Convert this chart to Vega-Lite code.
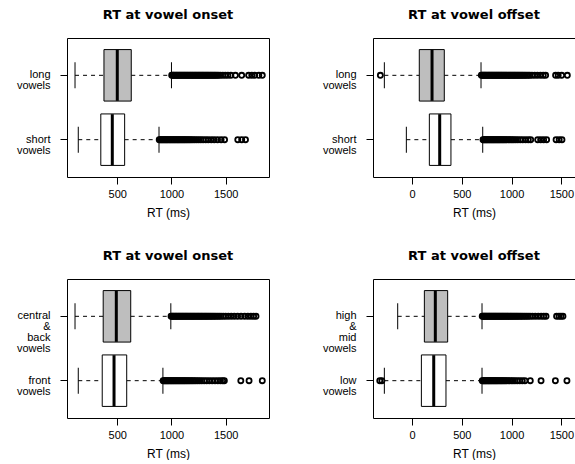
{
  "$schema": "https://vega.github.io/schema/vega-lite/v6.json",
  "background": "white",
  "padding": {"left": 15, "top": 8, "right": 0, "bottom": 0},
  "columns": 2,
  "bounds": "flush",
  "spacing": {"row": 102, "column": 104},
  "datasets": {
    "boxes": [
      {"p": "p1", "g": "long|vowels", "lo": 110, "q1": 377, "med": 500, "q3": 629, "hi": 1000},
      {"p": "p1", "g": "short|vowels", "lo": 140, "q1": 348, "med": 454, "q3": 568, "hi": 885},
      {"p": "p2", "g": "long|vowels", "lo": -278, "q1": 73, "med": 201, "q3": 324, "hi": 693},
      {"p": "p2", "g": "short|vowels", "lo": -57, "q1": 174, "med": 278, "q3": 391, "hi": 710},
      {"p": "p3", "g": "central|&|back|vowels", "lo": 110, "q1": 370, "med": 491, "q3": 624, "hi": 994},
      {"p": "p3", "g": "front|vowels", "lo": 140, "q1": 361, "med": 470, "q3": 587, "hi": 921},
      {"p": "p4", "g": "high|&|mid|vowels", "lo": -144, "q1": 124, "med": 234, "q3": 358, "hi": 703},
      {"p": "p4", "g": "low|vowels", "lo": -278, "q1": 94, "med": 218, "q3": 341, "hi": 703}
    ],
    "outs": [
      {"p":"p1","g":"long|vowels","v":1002},{"p":"p1","g":"long|vowels","v":1011},{"p":"p1","g":"long|vowels","v":1019},{"p":"p1","g":"long|vowels","v":1028},{"p":"p1","g":"long|vowels","v":1038},{"p":"p1","g":"long|vowels","v":1047},{"p":"p1","g":"long|vowels","v":1056},{"p":"p1","g":"long|vowels","v":1066},{"p":"p1","g":"long|vowels","v":1075},{"p":"p1","g":"long|vowels","v":1084},{"p":"p1","g":"long|vowels","v":1094},{"p":"p1","g":"long|vowels","v":1103},{"p":"p1","g":"long|vowels","v":1113},{"p":"p1","g":"long|vowels","v":1122},{"p":"p1","g":"long|vowels","v":1131},{"p":"p1","g":"long|vowels","v":1141},{"p":"p1","g":"long|vowels","v":1150},{"p":"p1","g":"long|vowels","v":1160},{"p":"p1","g":"long|vowels","v":1170},{"p":"p1","g":"long|vowels","v":1179},{"p":"p1","g":"long|vowels","v":1189},{"p":"p1","g":"long|vowels","v":1198},{"p":"p1","g":"long|vowels","v":1208},{"p":"p1","g":"long|vowels","v":1218},{"p":"p1","g":"long|vowels","v":1227},{"p":"p1","g":"long|vowels","v":1237},{"p":"p1","g":"long|vowels","v":1247},{"p":"p1","g":"long|vowels","v":1256},{"p":"p1","g":"long|vowels","v":1266},{"p":"p1","g":"long|vowels","v":1276},{"p":"p1","g":"long|vowels","v":1286},{"p":"p1","g":"long|vowels","v":1295},{"p":"p1","g":"long|vowels","v":1305},{"p":"p1","g":"long|vowels","v":1315},{"p":"p1","g":"long|vowels","v":1325},{"p":"p1","g":"long|vowels","v":1335},{"p":"p1","g":"long|vowels","v":1345},{"p":"p1","g":"long|vowels","v":1356},{"p":"p1","g":"long|vowels","v":1366},{"p":"p1","g":"long|vowels","v":1377},{"p":"p1","g":"long|vowels","v":1388},{"p":"p1","g":"long|vowels","v":1399},{"p":"p1","g":"long|vowels","v":1410},{"p":"p1","g":"long|vowels","v":1422},{"p":"p1","g":"long|vowels","v":1435},{"p":"p1","g":"long|vowels","v":1452},{"p":"p1","g":"long|vowels","v":1474},{"p":"p1","g":"long|vowels","v":1497},{"p":"p1","g":"long|vowels","v":1521},{"p":"p1","g":"long|vowels","v":1548},{"p":"p1","g":"long|vowels","v":1590},{"p":"p1","g":"long|vowels","v":1648},{"p":"p1","g":"long|vowels","v":1712},{"p":"p1","g":"long|vowels","v":1741},{"p":"p1","g":"long|vowels","v":1768},{"p":"p1","g":"long|vowels","v":1806},{"p":"p1","g":"long|vowels","v":1838},
      {"p":"p1","g":"short|vowels","v":887},{"p":"p1","g":"short|vowels","v":896},{"p":"p1","g":"short|vowels","v":905},{"p":"p1","g":"short|vowels","v":914},{"p":"p1","g":"short|vowels","v":923},{"p":"p1","g":"short|vowels","v":932},{"p":"p1","g":"short|vowels","v":941},{"p":"p1","g":"short|vowels","v":950},{"p":"p1","g":"short|vowels","v":959},{"p":"p1","g":"short|vowels","v":968},{"p":"p1","g":"short|vowels","v":978},{"p":"p1","g":"short|vowels","v":987},{"p":"p1","g":"short|vowels","v":996},{"p":"p1","g":"short|vowels","v":1006},{"p":"p1","g":"short|vowels","v":1015},{"p":"p1","g":"short|vowels","v":1025},{"p":"p1","g":"short|vowels","v":1034},{"p":"p1","g":"short|vowels","v":1044},{"p":"p1","g":"short|vowels","v":1054},{"p":"p1","g":"short|vowels","v":1063},{"p":"p1","g":"short|vowels","v":1073},{"p":"p1","g":"short|vowels","v":1083},{"p":"p1","g":"short|vowels","v":1093},{"p":"p1","g":"short|vowels","v":1103},{"p":"p1","g":"short|vowels","v":1114},{"p":"p1","g":"short|vowels","v":1124},{"p":"p1","g":"short|vowels","v":1135},{"p":"p1","g":"short|vowels","v":1146},{"p":"p1","g":"short|vowels","v":1158},{"p":"p1","g":"short|vowels","v":1170},{"p":"p1","g":"short|vowels","v":1183},{"p":"p1","g":"short|vowels","v":1198},{"p":"p1","g":"short|vowels","v":1214},{"p":"p1","g":"short|vowels","v":1232},{"p":"p1","g":"short|vowels","v":1251},{"p":"p1","g":"short|vowels","v":1271},{"p":"p1","g":"short|vowels","v":1292},{"p":"p1","g":"short|vowels","v":1316},{"p":"p1","g":"short|vowels","v":1340},{"p":"p1","g":"short|vowels","v":1368},{"p":"p1","g":"short|vowels","v":1395},{"p":"p1","g":"short|vowels","v":1425},{"p":"p1","g":"short|vowels","v":1458},{"p":"p1","g":"short|vowels","v":1490},{"p":"p1","g":"short|vowels","v":1612},{"p":"p1","g":"short|vowels","v":1648},{"p":"p1","g":"short|vowels","v":1683},
      {"p":"p2","g":"long|vowels","v":-318},{"p":"p2","g":"long|vowels","v":696},{"p":"p2","g":"long|vowels","v":705},{"p":"p2","g":"long|vowels","v":714},{"p":"p2","g":"long|vowels","v":723},{"p":"p2","g":"long|vowels","v":732},{"p":"p2","g":"long|vowels","v":741},{"p":"p2","g":"long|vowels","v":750},{"p":"p2","g":"long|vowels","v":760},{"p":"p2","g":"long|vowels","v":769},{"p":"p2","g":"long|vowels","v":778},{"p":"p2","g":"long|vowels","v":787},{"p":"p2","g":"long|vowels","v":797},{"p":"p2","g":"long|vowels","v":806},{"p":"p2","g":"long|vowels","v":815},{"p":"p2","g":"long|vowels","v":825},{"p":"p2","g":"long|vowels","v":834},{"p":"p2","g":"long|vowels","v":844},{"p":"p2","g":"long|vowels","v":853},{"p":"p2","g":"long|vowels","v":863},{"p":"p2","g":"long|vowels","v":872},{"p":"p2","g":"long|vowels","v":882},{"p":"p2","g":"long|vowels","v":892},{"p":"p2","g":"long|vowels","v":901},{"p":"p2","g":"long|vowels","v":911},{"p":"p2","g":"long|vowels","v":921},{"p":"p2","g":"long|vowels","v":931},{"p":"p2","g":"long|vowels","v":941},{"p":"p2","g":"long|vowels","v":951},{"p":"p2","g":"long|vowels","v":961},{"p":"p2","g":"long|vowels","v":971},{"p":"p2","g":"long|vowels","v":981},{"p":"p2","g":"long|vowels","v":991},{"p":"p2","g":"long|vowels","v":1002},{"p":"p2","g":"long|vowels","v":1012},{"p":"p2","g":"long|vowels","v":1023},{"p":"p2","g":"long|vowels","v":1033},{"p":"p2","g":"long|vowels","v":1044},{"p":"p2","g":"long|vowels","v":1055},{"p":"p2","g":"long|vowels","v":1066},{"p":"p2","g":"long|vowels","v":1077},{"p":"p2","g":"long|vowels","v":1089},{"p":"p2","g":"long|vowels","v":1101},{"p":"p2","g":"long|vowels","v":1113},{"p":"p2","g":"long|vowels","v":1126},{"p":"p2","g":"long|vowels","v":1139},{"p":"p2","g":"long|vowels","v":1153},{"p":"p2","g":"long|vowels","v":1168},{"p":"p2","g":"long|vowels","v":1183},{"p":"p2","g":"long|vowels","v":1205},{"p":"p2","g":"long|vowels","v":1232},{"p":"p2","g":"long|vowels","v":1260},{"p":"p2","g":"long|vowels","v":1290},{"p":"p2","g":"long|vowels","v":1318},{"p":"p2","g":"long|vowels","v":1342},{"p":"p2","g":"long|vowels","v":1442},{"p":"p2","g":"long|vowels","v":1468},{"p":"p2","g":"long|vowels","v":1503},{"p":"p2","g":"long|vowels","v":1560},
      {"p":"p2","g":"short|vowels","v":713},{"p":"p2","g":"short|vowels","v":722},{"p":"p2","g":"short|vowels","v":731},{"p":"p2","g":"short|vowels","v":740},{"p":"p2","g":"short|vowels","v":749},{"p":"p2","g":"short|vowels","v":758},{"p":"p2","g":"short|vowels","v":768},{"p":"p2","g":"short|vowels","v":777},{"p":"p2","g":"short|vowels","v":786},{"p":"p2","g":"short|vowels","v":796},{"p":"p2","g":"short|vowels","v":805},{"p":"p2","g":"short|vowels","v":815},{"p":"p2","g":"short|vowels","v":824},{"p":"p2","g":"short|vowels","v":834},{"p":"p2","g":"short|vowels","v":844},{"p":"p2","g":"short|vowels","v":854},{"p":"p2","g":"short|vowels","v":864},{"p":"p2","g":"short|vowels","v":874},{"p":"p2","g":"short|vowels","v":884},{"p":"p2","g":"short|vowels","v":895},{"p":"p2","g":"short|vowels","v":906},{"p":"p2","g":"short|vowels","v":917},{"p":"p2","g":"short|vowels","v":928},{"p":"p2","g":"short|vowels","v":940},{"p":"p2","g":"short|vowels","v":952},{"p":"p2","g":"short|vowels","v":965},{"p":"p2","g":"short|vowels","v":978},{"p":"p2","g":"short|vowels","v":992},{"p":"p2","g":"short|vowels","v":1007},{"p":"p2","g":"short|vowels","v":1023},{"p":"p2","g":"short|vowels","v":1042},{"p":"p2","g":"short|vowels","v":1063},{"p":"p2","g":"short|vowels","v":1087},{"p":"p2","g":"short|vowels","v":1112},{"p":"p2","g":"short|vowels","v":1140},{"p":"p2","g":"short|vowels","v":1168},{"p":"p2","g":"short|vowels","v":1192},{"p":"p2","g":"short|vowels","v":1262},{"p":"p2","g":"short|vowels","v":1292},{"p":"p2","g":"short|vowels","v":1322},{"p":"p2","g":"short|vowels","v":1352},{"p":"p2","g":"short|vowels","v":1447},{"p":"p2","g":"short|vowels","v":1478},{"p":"p2","g":"short|vowels","v":1506},
      {"p":"p3","g":"central|&|back|vowels","v":996},{"p":"p3","g":"central|&|back|vowels","v":1005},{"p":"p3","g":"central|&|back|vowels","v":1014},{"p":"p3","g":"central|&|back|vowels","v":1023},{"p":"p3","g":"central|&|back|vowels","v":1033},{"p":"p3","g":"central|&|back|vowels","v":1042},{"p":"p3","g":"central|&|back|vowels","v":1051},{"p":"p3","g":"central|&|back|vowels","v":1061},{"p":"p3","g":"central|&|back|vowels","v":1070},{"p":"p3","g":"central|&|back|vowels","v":1080},{"p":"p3","g":"central|&|back|vowels","v":1089},{"p":"p3","g":"central|&|back|vowels","v":1099},{"p":"p3","g":"central|&|back|vowels","v":1108},{"p":"p3","g":"central|&|back|vowels","v":1118},{"p":"p3","g":"central|&|back|vowels","v":1128},{"p":"p3","g":"central|&|back|vowels","v":1137},{"p":"p3","g":"central|&|back|vowels","v":1147},{"p":"p3","g":"central|&|back|vowels","v":1157},{"p":"p3","g":"central|&|back|vowels","v":1167},{"p":"p3","g":"central|&|back|vowels","v":1177},{"p":"p3","g":"central|&|back|vowels","v":1187},{"p":"p3","g":"central|&|back|vowels","v":1197},{"p":"p3","g":"central|&|back|vowels","v":1207},{"p":"p3","g":"central|&|back|vowels","v":1217},{"p":"p3","g":"central|&|back|vowels","v":1227},{"p":"p3","g":"central|&|back|vowels","v":1238},{"p":"p3","g":"central|&|back|vowels","v":1248},{"p":"p3","g":"central|&|back|vowels","v":1258},{"p":"p3","g":"central|&|back|vowels","v":1269},{"p":"p3","g":"central|&|back|vowels","v":1279},{"p":"p3","g":"central|&|back|vowels","v":1290},{"p":"p3","g":"central|&|back|vowels","v":1301},{"p":"p3","g":"central|&|back|vowels","v":1312},{"p":"p3","g":"central|&|back|vowels","v":1323},{"p":"p3","g":"central|&|back|vowels","v":1334},{"p":"p3","g":"central|&|back|vowels","v":1346},{"p":"p3","g":"central|&|back|vowels","v":1358},{"p":"p3","g":"central|&|back|vowels","v":1370},{"p":"p3","g":"central|&|back|vowels","v":1383},{"p":"p3","g":"central|&|back|vowels","v":1396},{"p":"p3","g":"central|&|back|vowels","v":1410},{"p":"p3","g":"central|&|back|vowels","v":1425},{"p":"p3","g":"central|&|back|vowels","v":1441},{"p":"p3","g":"central|&|back|vowels","v":1458},{"p":"p3","g":"central|&|back|vowels","v":1478},{"p":"p3","g":"central|&|back|vowels","v":1500},{"p":"p3","g":"central|&|back|vowels","v":1525},{"p":"p3","g":"central|&|back|vowels","v":1552},{"p":"p3","g":"central|&|back|vowels","v":1580},{"p":"p3","g":"central|&|back|vowels","v":1610},{"p":"p3","g":"central|&|back|vowels","v":1642},{"p":"p3","g":"central|&|back|vowels","v":1675},{"p":"p3","g":"central|&|back|vowels","v":1705},{"p":"p3","g":"central|&|back|vowels","v":1733},{"p":"p3","g":"central|&|back|vowels","v":1758},{"p":"p3","g":"central|&|back|vowels","v":1780},
      {"p":"p3","g":"front|vowels","v":923},{"p":"p3","g":"front|vowels","v":932},{"p":"p3","g":"front|vowels","v":941},{"p":"p3","g":"front|vowels","v":950},{"p":"p3","g":"front|vowels","v":959},{"p":"p3","g":"front|vowels","v":968},{"p":"p3","g":"front|vowels","v":977},{"p":"p3","g":"front|vowels","v":987},{"p":"p3","g":"front|vowels","v":996},{"p":"p3","g":"front|vowels","v":1005},{"p":"p3","g":"front|vowels","v":1015},{"p":"p3","g":"front|vowels","v":1024},{"p":"p3","g":"front|vowels","v":1034},{"p":"p3","g":"front|vowels","v":1043},{"p":"p3","g":"front|vowels","v":1053},{"p":"p3","g":"front|vowels","v":1063},{"p":"p3","g":"front|vowels","v":1073},{"p":"p3","g":"front|vowels","v":1083},{"p":"p3","g":"front|vowels","v":1093},{"p":"p3","g":"front|vowels","v":1103},{"p":"p3","g":"front|vowels","v":1114},{"p":"p3","g":"front|vowels","v":1124},{"p":"p3","g":"front|vowels","v":1135},{"p":"p3","g":"front|vowels","v":1146},{"p":"p3","g":"front|vowels","v":1158},{"p":"p3","g":"front|vowels","v":1170},{"p":"p3","g":"front|vowels","v":1183},{"p":"p3","g":"front|vowels","v":1196},{"p":"p3","g":"front|vowels","v":1210},{"p":"p3","g":"front|vowels","v":1225},{"p":"p3","g":"front|vowels","v":1242},{"p":"p3","g":"front|vowels","v":1260},{"p":"p3","g":"front|vowels","v":1280},{"p":"p3","g":"front|vowels","v":1302},{"p":"p3","g":"front|vowels","v":1325},{"p":"p3","g":"front|vowels","v":1350},{"p":"p3","g":"front|vowels","v":1376},{"p":"p3","g":"front|vowels","v":1402},{"p":"p3","g":"front|vowels","v":1428},{"p":"p3","g":"front|vowels","v":1452},{"p":"p3","g":"front|vowels","v":1472},{"p":"p3","g":"front|vowels","v":1488},{"p":"p3","g":"front|vowels","v":1640},{"p":"p3","g":"front|vowels","v":1716},{"p":"p3","g":"front|vowels","v":1838},
      {"p":"p4","g":"high|&|mid|vowels","v":705},{"p":"p4","g":"high|&|mid|vowels","v":714},{"p":"p4","g":"high|&|mid|vowels","v":723},{"p":"p4","g":"high|&|mid|vowels","v":732},{"p":"p4","g":"high|&|mid|vowels","v":741},{"p":"p4","g":"high|&|mid|vowels","v":750},{"p":"p4","g":"high|&|mid|vowels","v":759},{"p":"p4","g":"high|&|mid|vowels","v":769},{"p":"p4","g":"high|&|mid|vowels","v":778},{"p":"p4","g":"high|&|mid|vowels","v":787},{"p":"p4","g":"high|&|mid|vowels","v":797},{"p":"p4","g":"high|&|mid|vowels","v":806},{"p":"p4","g":"high|&|mid|vowels","v":816},{"p":"p4","g":"high|&|mid|vowels","v":825},{"p":"p4","g":"high|&|mid|vowels","v":835},{"p":"p4","g":"high|&|mid|vowels","v":844},{"p":"p4","g":"high|&|mid|vowels","v":854},{"p":"p4","g":"high|&|mid|vowels","v":864},{"p":"p4","g":"high|&|mid|vowels","v":874},{"p":"p4","g":"high|&|mid|vowels","v":884},{"p":"p4","g":"high|&|mid|vowels","v":894},{"p":"p4","g":"high|&|mid|vowels","v":904},{"p":"p4","g":"high|&|mid|vowels","v":914},{"p":"p4","g":"high|&|mid|vowels","v":924},{"p":"p4","g":"high|&|mid|vowels","v":935},{"p":"p4","g":"high|&|mid|vowels","v":945},{"p":"p4","g":"high|&|mid|vowels","v":956},{"p":"p4","g":"high|&|mid|vowels","v":966},{"p":"p4","g":"high|&|mid|vowels","v":977},{"p":"p4","g":"high|&|mid|vowels","v":988},{"p":"p4","g":"high|&|mid|vowels","v":999},{"p":"p4","g":"high|&|mid|vowels","v":1010},{"p":"p4","g":"high|&|mid|vowels","v":1022},{"p":"p4","g":"high|&|mid|vowels","v":1034},{"p":"p4","g":"high|&|mid|vowels","v":1046},{"p":"p4","g":"high|&|mid|vowels","v":1058},{"p":"p4","g":"high|&|mid|vowels","v":1071},{"p":"p4","g":"high|&|mid|vowels","v":1085},{"p":"p4","g":"high|&|mid|vowels","v":1099},{"p":"p4","g":"high|&|mid|vowels","v":1114},{"p":"p4","g":"high|&|mid|vowels","v":1130},{"p":"p4","g":"high|&|mid|vowels","v":1147},{"p":"p4","g":"high|&|mid|vowels","v":1165},{"p":"p4","g":"high|&|mid|vowels","v":1185},{"p":"p4","g":"high|&|mid|vowels","v":1210},{"p":"p4","g":"high|&|mid|vowels","v":1238},{"p":"p4","g":"high|&|mid|vowels","v":1268},{"p":"p4","g":"high|&|mid|vowels","v":1297},{"p":"p4","g":"high|&|mid|vowels","v":1323},{"p":"p4","g":"high|&|mid|vowels","v":1346},{"p":"p4","g":"high|&|mid|vowels","v":1452},{"p":"p4","g":"high|&|mid|vowels","v":1476},{"p":"p4","g":"high|&|mid|vowels","v":1496},{"p":"p4","g":"high|&|mid|vowels","v":1516},
      {"p":"p4","g":"low|vowels","v":-324},{"p":"p4","g":"low|vowels","v":-303},{"p":"p4","g":"low|vowels","v":705},{"p":"p4","g":"low|vowels","v":714},{"p":"p4","g":"low|vowels","v":723},{"p":"p4","g":"low|vowels","v":732},{"p":"p4","g":"low|vowels","v":741},{"p":"p4","g":"low|vowels","v":750},{"p":"p4","g":"low|vowels","v":760},{"p":"p4","g":"low|vowels","v":769},{"p":"p4","g":"low|vowels","v":778},{"p":"p4","g":"low|vowels","v":788},{"p":"p4","g":"low|vowels","v":797},{"p":"p4","g":"low|vowels","v":807},{"p":"p4","g":"low|vowels","v":817},{"p":"p4","g":"low|vowels","v":827},{"p":"p4","g":"low|vowels","v":837},{"p":"p4","g":"low|vowels","v":847},{"p":"p4","g":"low|vowels","v":857},{"p":"p4","g":"low|vowels","v":868},{"p":"p4","g":"low|vowels","v":879},{"p":"p4","g":"low|vowels","v":890},{"p":"p4","g":"low|vowels","v":901},{"p":"p4","g":"low|vowels","v":913},{"p":"p4","g":"low|vowels","v":925},{"p":"p4","g":"low|vowels","v":938},{"p":"p4","g":"low|vowels","v":951},{"p":"p4","g":"low|vowels","v":965},{"p":"p4","g":"low|vowels","v":980},{"p":"p4","g":"low|vowels","v":996},{"p":"p4","g":"low|vowels","v":1014},{"p":"p4","g":"low|vowels","v":1034},{"p":"p4","g":"low|vowels","v":1057},{"p":"p4","g":"low|vowels","v":1082},{"p":"p4","g":"low|vowels","v":1108},{"p":"p4","g":"low|vowels","v":1134},{"p":"p4","g":"low|vowels","v":1188},{"p":"p4","g":"low|vowels","v":1296},{"p":"p4","g":"low|vowels","v":1440},{"p":"p4","g":"low|vowels","v":1556}
    ]
  },
  "concat": [
    {
      "title": "RT at vowel onset",
      "width": 202, "height": 139,
      "encoding": {"y": {"field": "g", "type": "nominal", "sort": ["long|vowels", "short|vowels"], "title": null, "scale": {"domain": ["long|vowels", "short|vowels"], "paddingInner": 0.2, "paddingOuter": 0.18}, "axis": {"labelExpr": "split(datum.label, '|')"}}},
      "layer": [
        {"data": {"name": "boxes"}, "transform": [{"filter": "datum.p == 'p1'"}], "mark": {"type": "rule", "color": "black", "strokeDash": [4, 4]}, "encoding": {"x": {"field": "lo", "type": "quantitative", "title": "RT (ms)", "scale": {"domain": [36, 1900], "nice": false, "zero": false}, "axis": {"values": [500, 1000, 1500], "format": "d"}}, "x2": {"field": "q1"}}},
        {"data": {"name": "boxes"}, "transform": [{"filter": "datum.p == 'p1'"}], "mark": {"type": "rule", "color": "black", "strokeDash": [4, 4]}, "encoding": {"x": {"field": "q3", "type": "quantitative", "title": "RT (ms)", "scale": {"domain": [36, 1900], "nice": false, "zero": false}, "axis": {"values": [500, 1000, 1500], "format": "d"}}, "x2": {"field": "hi"}}},
        {"data": {"name": "boxes"}, "transform": [{"filter": "datum.p == 'p1'"}], "mark": {"type": "tick", "orient": "vertical", "color": "black", "thickness": 1, "size": 26, "opacity": 1}, "encoding": {"x": {"field": "lo", "type": "quantitative", "title": "RT (ms)", "scale": {"domain": [36, 1900], "nice": false, "zero": false}, "axis": {"values": [500, 1000, 1500], "format": "d"}}}},
        {"data": {"name": "boxes"}, "transform": [{"filter": "datum.p == 'p1'"}], "mark": {"type": "tick", "orient": "vertical", "color": "black", "thickness": 1, "size": 26, "opacity": 1}, "encoding": {"x": {"field": "hi", "type": "quantitative", "title": "RT (ms)", "scale": {"domain": [36, 1900], "nice": false, "zero": false}, "axis": {"values": [500, 1000, 1500], "format": "d"}}}},
        {"data": {"name": "boxes"}, "transform": [{"filter": "datum.p == 'p1'"}], "mark": {"type": "bar", "stroke": "black", "strokeWidth": 1, "opacity": 1}, "encoding": {"x": {"field": "q1", "type": "quantitative", "title": "RT (ms)", "scale": {"domain": [36, 1900], "nice": false, "zero": false}, "axis": {"values": [500, 1000, 1500], "format": "d"}}, "x2": {"field": "q3"}, "fill": {"condition": {"test": "datum.g == 'long|vowels'", "value": "#bebebe"}, "value": "white"}}},
        {"data": {"name": "boxes"}, "transform": [{"filter": "datum.p == 'p1'"}], "mark": {"type": "tick", "orient": "vertical", "color": "black", "thickness": 3, "size": 51, "opacity": 1}, "encoding": {"x": {"field": "med", "type": "quantitative", "title": "RT (ms)", "scale": {"domain": [36, 1900], "nice": false, "zero": false}, "axis": {"values": [500, 1000, 1500], "format": "d"}}}},
        {"data": {"name": "outs"}, "transform": [{"filter": "datum.p == 'p1'"}], "mark": {"type": "point", "shape": "circle", "filled": false, "color": "black", "size": 26, "strokeWidth": 1.8, "opacity": 1}, "encoding": {"x": {"field": "v", "type": "quantitative", "title": "RT (ms)", "scale": {"domain": [36, 1900], "nice": false, "zero": false}, "axis": {"values": [500, 1000, 1500], "format": "d"}}}}
      ]
    },
    {
      "title": "RT at vowel offset",
      "width": 202, "height": 139,
      "encoding": {"y": {"field": "g", "type": "nominal", "sort": ["long|vowels", "short|vowels"], "title": null, "scale": {"domain": ["long|vowels", "short|vowels"], "paddingInner": 0.2, "paddingOuter": 0.18}, "axis": {"labelExpr": "split(datum.label, '|')"}}},
      "layer": [
        {"data": {"name": "boxes"}, "transform": [{"filter": "datum.p == 'p2'"}], "mark": {"type": "rule", "color": "black", "strokeDash": [4, 4]}, "encoding": {"x": {"field": "lo", "type": "quantitative", "title": "RT (ms)", "scale": {"domain": [-392, 1637], "nice": false, "zero": false}, "axis": {"values": [0, 500, 1000, 1500], "format": "d"}}, "x2": {"field": "q1"}}},
        {"data": {"name": "boxes"}, "transform": [{"filter": "datum.p == 'p2'"}], "mark": {"type": "rule", "color": "black", "strokeDash": [4, 4]}, "encoding": {"x": {"field": "q3", "type": "quantitative", "title": "RT (ms)", "scale": {"domain": [-392, 1637], "nice": false, "zero": false}, "axis": {"values": [0, 500, 1000, 1500], "format": "d"}}, "x2": {"field": "hi"}}},
        {"data": {"name": "boxes"}, "transform": [{"filter": "datum.p == 'p2'"}], "mark": {"type": "tick", "orient": "vertical", "color": "black", "thickness": 1, "size": 26, "opacity": 1}, "encoding": {"x": {"field": "lo", "type": "quantitative", "title": "RT (ms)", "scale": {"domain": [-392, 1637], "nice": false, "zero": false}, "axis": {"values": [0, 500, 1000, 1500], "format": "d"}}}},
        {"data": {"name": "boxes"}, "transform": [{"filter": "datum.p == 'p2'"}], "mark": {"type": "tick", "orient": "vertical", "color": "black", "thickness": 1, "size": 26, "opacity": 1}, "encoding": {"x": {"field": "hi", "type": "quantitative", "title": "RT (ms)", "scale": {"domain": [-392, 1637], "nice": false, "zero": false}, "axis": {"values": [0, 500, 1000, 1500], "format": "d"}}}},
        {"data": {"name": "boxes"}, "transform": [{"filter": "datum.p == 'p2'"}], "mark": {"type": "bar", "stroke": "black", "strokeWidth": 1, "opacity": 1}, "encoding": {"x": {"field": "q1", "type": "quantitative", "title": "RT (ms)", "scale": {"domain": [-392, 1637], "nice": false, "zero": false}, "axis": {"values": [0, 500, 1000, 1500], "format": "d"}}, "x2": {"field": "q3"}, "fill": {"condition": {"test": "datum.g == 'long|vowels'", "value": "#bebebe"}, "value": "white"}}},
        {"data": {"name": "boxes"}, "transform": [{"filter": "datum.p == 'p2'"}], "mark": {"type": "tick", "orient": "vertical", "color": "black", "thickness": 3, "size": 51, "opacity": 1}, "encoding": {"x": {"field": "med", "type": "quantitative", "title": "RT (ms)", "scale": {"domain": [-392, 1637], "nice": false, "zero": false}, "axis": {"values": [0, 500, 1000, 1500], "format": "d"}}}},
        {"data": {"name": "outs"}, "transform": [{"filter": "datum.p == 'p2'"}], "mark": {"type": "point", "shape": "circle", "filled": false, "color": "black", "size": 26, "strokeWidth": 1.8, "opacity": 1}, "encoding": {"x": {"field": "v", "type": "quantitative", "title": "RT (ms)", "scale": {"domain": [-392, 1637], "nice": false, "zero": false}, "axis": {"values": [0, 500, 1000, 1500], "format": "d"}}}}
      ]
    },
    {
      "title": "RT at vowel onset",
      "width": 202, "height": 139,
      "encoding": {"y": {"field": "g", "type": "nominal", "sort": ["central|&|back|vowels", "front|vowels"], "title": null, "scale": {"domain": ["central|&|back|vowels", "front|vowels"], "paddingInner": 0.2, "paddingOuter": 0.18}, "axis": {"labelExpr": "split(datum.label, '|')"}}},
      "layer": [
        {"data": {"name": "boxes"}, "transform": [{"filter": "datum.p == 'p3'"}], "mark": {"type": "rule", "color": "black", "strokeDash": [4, 4]}, "encoding": {"x": {"field": "lo", "type": "quantitative", "title": "RT (ms)", "scale": {"domain": [36, 1900], "nice": false, "zero": false}, "axis": {"values": [500, 1000, 1500], "format": "d"}}, "x2": {"field": "q1"}}},
        {"data": {"name": "boxes"}, "transform": [{"filter": "datum.p == 'p3'"}], "mark": {"type": "rule", "color": "black", "strokeDash": [4, 4]}, "encoding": {"x": {"field": "q3", "type": "quantitative", "title": "RT (ms)", "scale": {"domain": [36, 1900], "nice": false, "zero": false}, "axis": {"values": [500, 1000, 1500], "format": "d"}}, "x2": {"field": "hi"}}},
        {"data": {"name": "boxes"}, "transform": [{"filter": "datum.p == 'p3'"}], "mark": {"type": "tick", "orient": "vertical", "color": "black", "thickness": 1, "size": 26, "opacity": 1}, "encoding": {"x": {"field": "lo", "type": "quantitative", "title": "RT (ms)", "scale": {"domain": [36, 1900], "nice": false, "zero": false}, "axis": {"values": [500, 1000, 1500], "format": "d"}}}},
        {"data": {"name": "boxes"}, "transform": [{"filter": "datum.p == 'p3'"}], "mark": {"type": "tick", "orient": "vertical", "color": "black", "thickness": 1, "size": 26, "opacity": 1}, "encoding": {"x": {"field": "hi", "type": "quantitative", "title": "RT (ms)", "scale": {"domain": [36, 1900], "nice": false, "zero": false}, "axis": {"values": [500, 1000, 1500], "format": "d"}}}},
        {"data": {"name": "boxes"}, "transform": [{"filter": "datum.p == 'p3'"}], "mark": {"type": "bar", "stroke": "black", "strokeWidth": 1, "opacity": 1}, "encoding": {"x": {"field": "q1", "type": "quantitative", "title": "RT (ms)", "scale": {"domain": [36, 1900], "nice": false, "zero": false}, "axis": {"values": [500, 1000, 1500], "format": "d"}}, "x2": {"field": "q3"}, "fill": {"condition": {"test": "datum.g == 'central|&|back|vowels'", "value": "#bebebe"}, "value": "white"}}},
        {"data": {"name": "boxes"}, "transform": [{"filter": "datum.p == 'p3'"}], "mark": {"type": "tick", "orient": "vertical", "color": "black", "thickness": 3, "size": 51, "opacity": 1}, "encoding": {"x": {"field": "med", "type": "quantitative", "title": "RT (ms)", "scale": {"domain": [36, 1900], "nice": false, "zero": false}, "axis": {"values": [500, 1000, 1500], "format": "d"}}}},
        {"data": {"name": "outs"}, "transform": [{"filter": "datum.p == 'p3'"}], "mark": {"type": "point", "shape": "circle", "filled": false, "color": "black", "size": 26, "strokeWidth": 1.8, "opacity": 1}, "encoding": {"x": {"field": "v", "type": "quantitative", "title": "RT (ms)", "scale": {"domain": [36, 1900], "nice": false, "zero": false}, "axis": {"values": [500, 1000, 1500], "format": "d"}}}}
      ]
    },
    {
      "title": "RT at vowel offset",
      "width": 202, "height": 139,
      "encoding": {"y": {"field": "g", "type": "nominal", "sort": ["high|&|mid|vowels", "low|vowels"], "title": null, "scale": {"domain": ["high|&|mid|vowels", "low|vowels"], "paddingInner": 0.2, "paddingOuter": 0.18}, "axis": {"labelExpr": "split(datum.label, '|')"}}},
      "layer": [
        {"data": {"name": "boxes"}, "transform": [{"filter": "datum.p == 'p4'"}], "mark": {"type": "rule", "color": "black", "strokeDash": [4, 4]}, "encoding": {"x": {"field": "lo", "type": "quantitative", "title": "RT (ms)", "scale": {"domain": [-392, 1637], "nice": false, "zero": false}, "axis": {"values": [0, 500, 1000, 1500], "format": "d"}}, "x2": {"field": "q1"}}},
        {"data": {"name": "boxes"}, "transform": [{"filter": "datum.p == 'p4'"}], "mark": {"type": "rule", "color": "black", "strokeDash": [4, 4]}, "encoding": {"x": {"field": "q3", "type": "quantitative", "title": "RT (ms)", "scale": {"domain": [-392, 1637], "nice": false, "zero": false}, "axis": {"values": [0, 500, 1000, 1500], "format": "d"}}, "x2": {"field": "hi"}}},
        {"data": {"name": "boxes"}, "transform": [{"filter": "datum.p == 'p4'"}], "mark": {"type": "tick", "orient": "vertical", "color": "black", "thickness": 1, "size": 26, "opacity": 1}, "encoding": {"x": {"field": "lo", "type": "quantitative", "title": "RT (ms)", "scale": {"domain": [-392, 1637], "nice": false, "zero": false}, "axis": {"values": [0, 500, 1000, 1500], "format": "d"}}}},
        {"data": {"name": "boxes"}, "transform": [{"filter": "datum.p == 'p4'"}], "mark": {"type": "tick", "orient": "vertical", "color": "black", "thickness": 1, "size": 26, "opacity": 1}, "encoding": {"x": {"field": "hi", "type": "quantitative", "title": "RT (ms)", "scale": {"domain": [-392, 1637], "nice": false, "zero": false}, "axis": {"values": [0, 500, 1000, 1500], "format": "d"}}}},
        {"data": {"name": "boxes"}, "transform": [{"filter": "datum.p == 'p4'"}], "mark": {"type": "bar", "stroke": "black", "strokeWidth": 1, "opacity": 1}, "encoding": {"x": {"field": "q1", "type": "quantitative", "title": "RT (ms)", "scale": {"domain": [-392, 1637], "nice": false, "zero": false}, "axis": {"values": [0, 500, 1000, 1500], "format": "d"}}, "x2": {"field": "q3"}, "fill": {"condition": {"test": "datum.g == 'high|&|mid|vowels'", "value": "#bebebe"}, "value": "white"}}},
        {"data": {"name": "boxes"}, "transform": [{"filter": "datum.p == 'p4'"}], "mark": {"type": "tick", "orient": "vertical", "color": "black", "thickness": 3, "size": 51, "opacity": 1}, "encoding": {"x": {"field": "med", "type": "quantitative", "title": "RT (ms)", "scale": {"domain": [-392, 1637], "nice": false, "zero": false}, "axis": {"values": [0, 500, 1000, 1500], "format": "d"}}}},
        {"data": {"name": "outs"}, "transform": [{"filter": "datum.p == 'p4'"}], "mark": {"type": "point", "shape": "circle", "filled": false, "color": "black", "size": 26, "strokeWidth": 1.8, "opacity": 1}, "encoding": {"x": {"field": "v", "type": "quantitative", "title": "RT (ms)", "scale": {"domain": [-392, 1637], "nice": false, "zero": false}, "axis": {"values": [0, 500, 1000, 1500], "format": "d"}}}}
      ]
    }
  ],
  "config": {
    "view": {"stroke": "black", "strokeWidth": 1},
    "axis": {"domain": false, "grid": false, "tickColor": "black", "tickSize": 7, "labelColor": "black", "labelFont": "Liberation Sans", "labelFontSize": 11, "titleFont": "Liberation Sans", "titleFontSize": 12, "titleFontWeight": "normal", "titleColor": "black"},
    "axisX": {"labelPadding": 4, "titlePadding": 8, "labelAngle": 0},
    "axisY": {"labelPadding": 10, "labelLineHeight": 11},
    "title": {"font": "DejaVu Sans", "fontSize": 13, "fontWeight": "bold", "color": "black", "offset": 16, "anchor": "middle", "frame": "group"}
  }
}
